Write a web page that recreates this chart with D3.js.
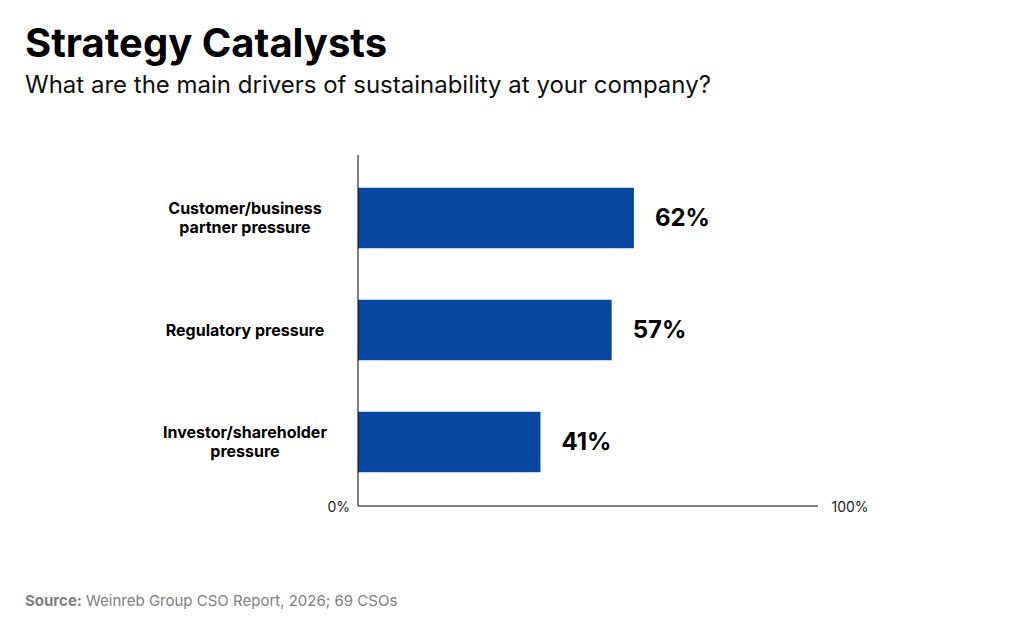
<!DOCTYPE html>
<meta charset="utf-8">
<style>
body { margin: 0; background: #fff; }
text { font-family: Inter, "Noto Sans", sans-serif; }
</style>
<svg width="1023" height="626"></svg>
<script src="https://d3js.org/d3.v7.min.js"></script>
<script>

var categories = [["Customer/business", "partner pressure"], ["Regulatory pressure"], ["Investor/shareholder", "pressure"]];
var values = [62, 57, 41];
var tickLabels = ["0%", "100%"];

var svg = d3.select("svg");

var x = d3.scaleLinear().domain([0, 100]).range([358, 803]);
var y = d3.scaleBand().domain(d3.range(values.length)).range([162, 498]).paddingInner(0.46).paddingOuter(0.23);

svg.append("text").attr("x", 25).attr("y", 57)
    .attr("font-size", 40).attr("font-weight", 700).attr("fill", "#000")
    .text("Strategy Catalysts");
svg.append("text").attr("x", 25).attr("y", 93)
    .attr("font-size", 24).attr("fill", "#111")
    .text("What are the main drivers of sustainability at your company?");

// bars
svg.selectAll(".bar")
  .data(values)
  .enter().append("rect")
    .attr("x", x(0))
    .attr("y", function(d, i) { return y(i); })
    .attr("width", function(d) { return x(d) - x(0); })
    .attr("height", y.bandwidth())
    .attr("fill", "#0648A0");

svg.selectAll(".val")
  .data(values)
  .enter().append("text")
    .attr("x", function(d) { return x(d) + 21; })
    .attr("y", function(d, i) { return y(i) + y.bandwidth() / 2; })
    .attr("dy", "0.35em")
    .attr("font-size", 24).attr("font-weight", 700).attr("fill", "#000")
    .text(function(d) { return d + "%"; });

// category labels
svg.selectAll(".cat")
  .data(categories)
  .enter().append("text")
    .attr("text-anchor", "middle")
    .attr("font-size", 16).attr("font-weight", 700).attr("fill", "#000")
    .attr("y", function(d, i) { return y(i) + y.bandwidth() / 2; })
    .each(function(d) {
      var t = d3.select(this);
      d.forEach(function(line, j) {
        t.append("tspan").attr("x", 245)
          .attr("dy", j === 0 ? (0.35 - (d.length - 1) * 0.6) + "em" : "1.2em")
          .text(line);
      });
    });

// axes
svg.append("line").attr("x1", 358).attr("x2", 358).attr("y1", 155).attr("y2", 506)
    .attr("stroke", "#000").attr("stroke-width", 1);
svg.append("line").attr("x1", 358).attr("x2", 818).attr("y1", 506).attr("y2", 506)
    .attr("stroke", "#000").attr("stroke-width", 1);
svg.append("text").attr("x", 350).attr("y", 507).attr("dy", "0.35em")
    .attr("text-anchor", "end").attr("font-size", 14).attr("fill", "#222").text(tickLabels[0]);
svg.append("text").attr("x", 850).attr("y", 507).attr("dy", "0.35em")
    .attr("text-anchor", "middle").attr("font-size", 14).attr("fill", "#222").text(tickLabels[1]);

var src = svg.append("text").attr("x", 25).attr("y", 606).attr("font-size", 15).attr("fill", "#808080");
src.append("tspan").attr("font-weight", 700).text("Source:");
src.append("tspan").text(" Weinreb Group CSO Report, 2026; 69 CSOs");

</script>
